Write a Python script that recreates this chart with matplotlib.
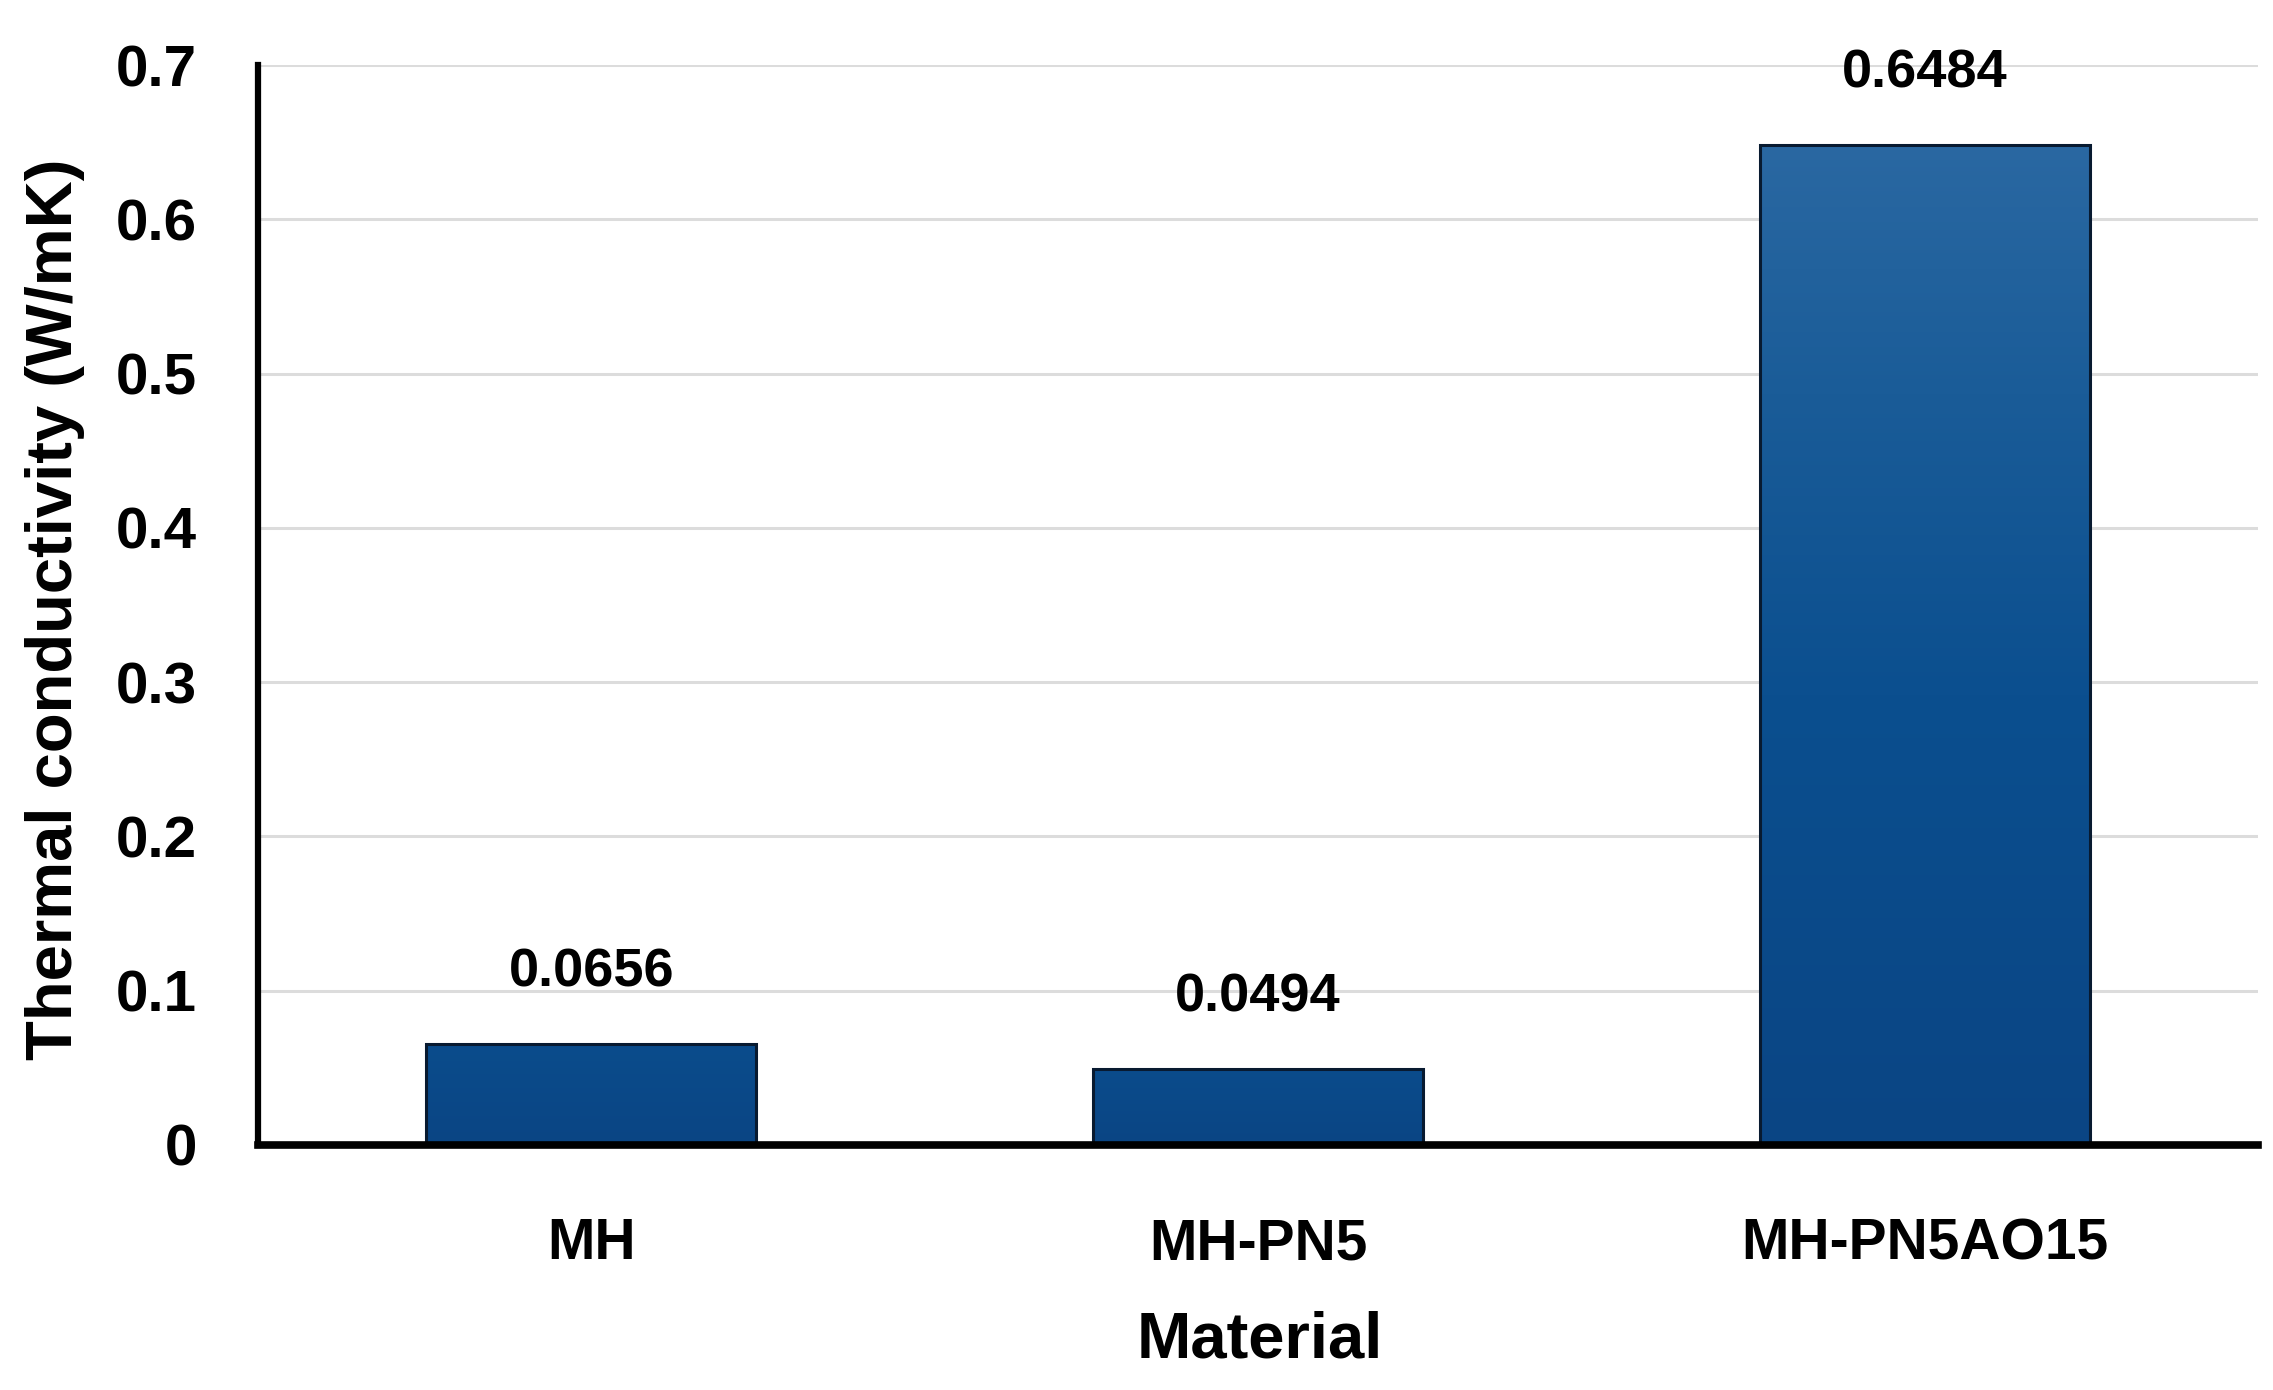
import numpy as np
import matplotlib
matplotlib.use("Agg")
import matplotlib.pyplot as plt
from matplotlib.colors import LinearSegmentedColormap

materials = ["MH", "MH-PN5", "MH-PN5AO15"]
conductivity = [0.0656, 0.0494, 0.6484]
yticks = [0, 0.1, 0.2, 0.3, 0.4, 0.5, 0.6, 0.7]
ytick_labels = ["0", "0.1", "0.2", "0.3", "0.4", "0.5", "0.6", "0.7"]

plt.rcParams["font.family"] = ["Liberation Sans", "DejaVu Sans"]
plt.rcParams["font.weight"] = "bold"

fig = plt.figure(figsize=(22.73, 13.90), dpi=100)
ax = fig.add_axes([0.1135, 0.1763, 0.88, 0.7769])

x = np.arange(len(materials))
bars = ax.bar(x, conductivity, width=0.495, facecolor="none",
              edgecolor="#081a30", linewidth=2.2, zorder=4)

# vertical gradient inside each bar, lighter near the top of tall bars
cmap = LinearSegmentedColormap.from_list(
    "blu", [(0, "#0a4584"), (0.45, "#0b4f8f"), (0.75, "#1a5c98"), (1, "#2a68a2")])
tallest = max(conductivity)
for b in bars:
    x0, y0 = b.get_x(), b.get_y()
    w, h = b.get_width(), b.get_height()
    top = min(1.0, 0.25 + 0.75 * h / tallest)
    grad = np.linspace(0, top, 256).reshape(-1, 1)
    im = ax.imshow(grad, cmap=cmap, vmin=0, vmax=1, origin="lower", aspect="auto",
                   extent=[x0, x0 + w, y0, y0 + h], zorder=3)
    im.set_clip_path(b)

for xi, v in zip(x, conductivity):
    ax.annotate(f"{v:.4f}", (xi, v), xytext=(0, 51), textcoords="offset points",
                ha="center", va="center", fontsize=39, fontweight="bold")

ax.set_xlim(-0.5, len(materials) - 0.5)
ax.set_ylim(0, 0.7)
ax.set_yticks(yticks)
ax.set_yticklabels(ytick_labels)
ax.set_xticks(x)
ax.set_xticklabels(materials)
ax.tick_params(axis="y", length=0, pad=44, labelsize=42)
ax.tick_params(axis="x", length=0, pad=52, labelsize=41)

ax.grid(axis="y", color="#dcdcdc", linewidth=2.2, zorder=0)
ax.set_axisbelow(True)
for s in ["top", "right"]:
    ax.spines[s].set_visible(False)
ax.spines["left"].set_linewidth(4.5)
ax.spines["bottom"].set_linewidth(5.5)
ax.spines["left"].set_zorder(5)
ax.spines["bottom"].set_zorder(5)

fig.text(0.0242, 0.562, "Thermal conductivity (W/mK)", rotation=90,
         ha="center", va="center", fontsize=47, fontweight="bold")
fig.text(0.5543, 0.0353, "Material", ha="center", va="center",
         fontsize=47, fontweight="bold")

fig.savefig("out.png", dpi=100, facecolor="white")
